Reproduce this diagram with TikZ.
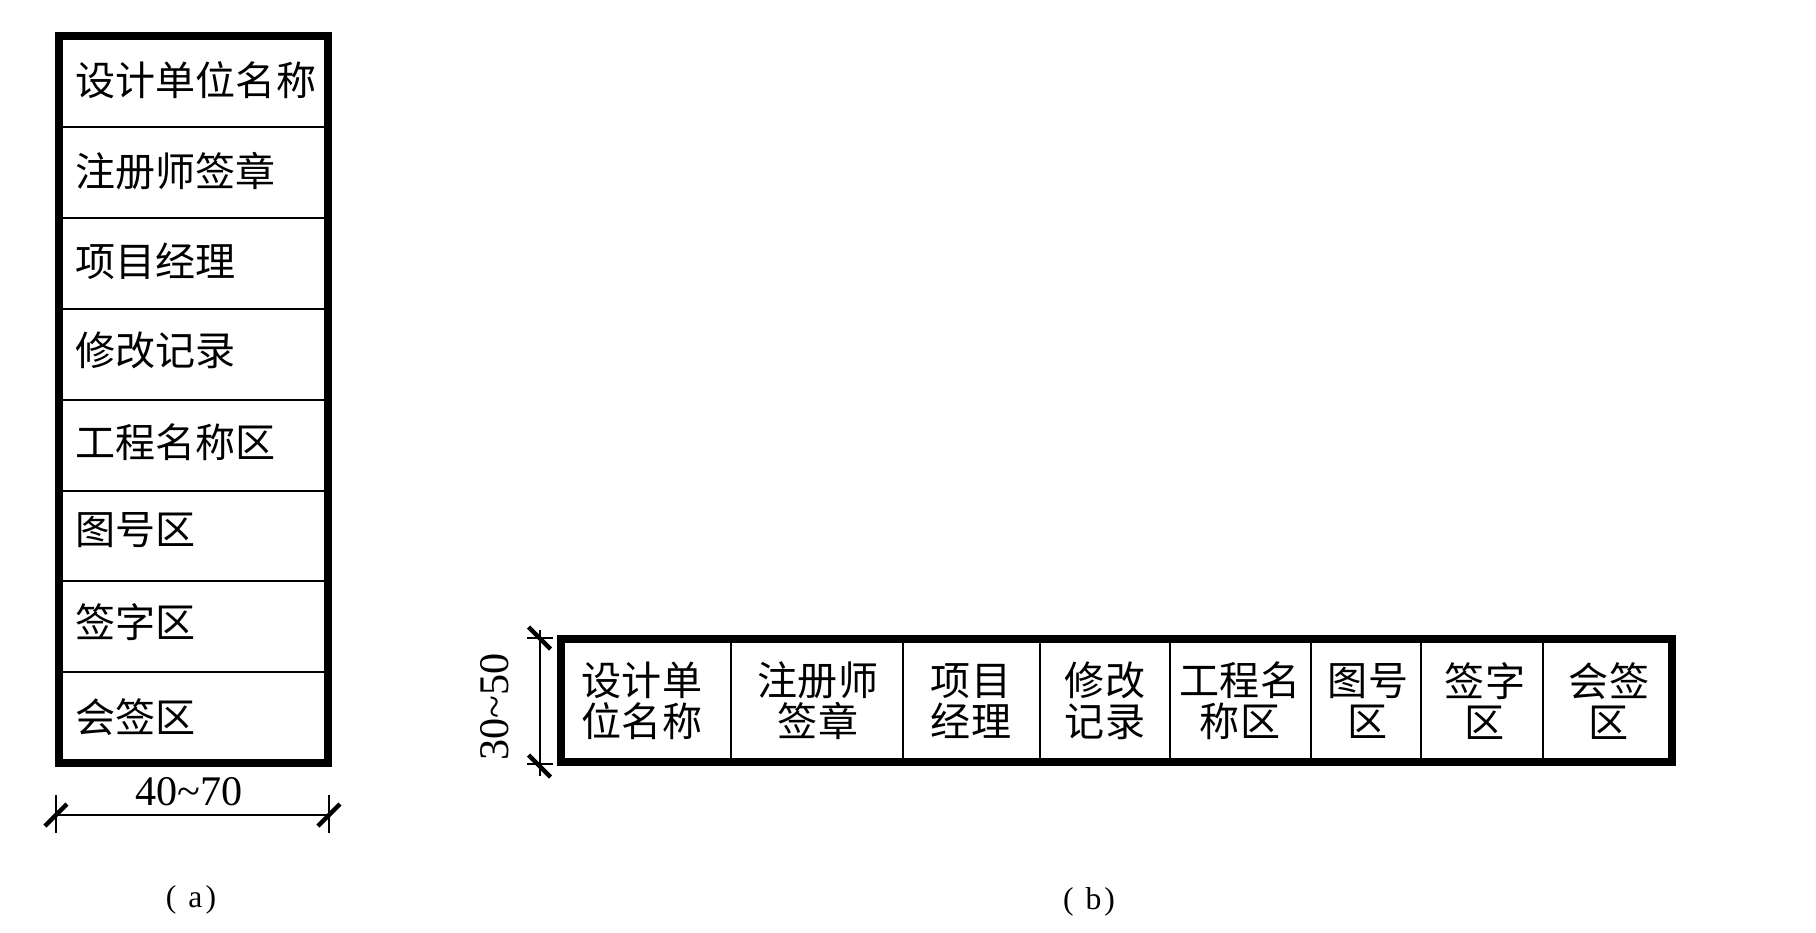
\documentclass[tikz,border=0pt]{standalone}
\usepackage{fontspec}
\setmainfont{Liberation Serif}
\newfontfamily\cjk{Noto Sans CJK SC}

\begin{document}
\begin{tikzpicture}
 \tikzstyle{outer}=[line width=0.08cm]
 \tikzstyle{divider}=[line width=0.02cm]
 \tikzstyle{dimline}=[line width=0.02cm]
 \tikzstyle{dimtick}=[line width=0.045cm]
 \tikzstyle{zone}=[inner sep=0, align=center, font=\cjk\fontsize{11.4pt}{11.6pt}\selectfont]
 \tikzstyle{dimtext}=[inner sep=0, font=\fontsize{12pt}{12pt}\selectfont]
 \tikzstyle{figcap}=[inner sep=0, font=\fontsize{9pt}{10pt}\selectfont]
 \useasboundingbox (0,0) rectangle (18.16,-9.33);
 %
 % (a) vertical title block
 \draw[outer] (0.59,-0.365) rectangle (3.28,-7.63);
 \draw[divider] (0.59,-1.273) -- (3.28,-1.273);
 \draw[divider] (0.59,-2.181) -- (3.28,-2.181);
 \draw[divider] (0.59,-3.089) -- (3.28,-3.089);
 \draw[divider] (0.59,-3.998) -- (3.28,-3.998);
 \draw[divider] (0.59,-4.906) -- (3.28,-4.906);
 \draw[divider] (0.59,-5.814) -- (3.28,-5.814);
 \draw[divider] (0.59,-6.722) -- (3.28,-6.722);
 %
 \node[zone, anchor=west] (A1) at (0.75,-0.80) {设计单位名称};
 \node[zone, anchor=west] (A2) at (0.75,-1.71) {注册师签章};
 \node[zone, anchor=west] (A3) at (0.75,-2.61) {项目经理};
 \node[zone, anchor=west] (A4) at (0.75,-3.50) {修改记录};
 \node[zone, anchor=west] (A5) at (0.75,-4.42) {工程名称区};
 \node[zone, anchor=west] (A6) at (0.75,-5.30) {图号区};
 \node[zone, anchor=west] (A7) at (0.75,-6.22) {签字区};
 \node[zone, anchor=west] (A8) at (0.75,-7.17) {会签区};
 %
 \coordinate (aL) at (0.56,-8.15);
 \coordinate (aR) at (3.29,-8.15);
 \draw[dimline] (0.56,-7.95) -- (0.56,-8.33);
 \draw[dimline] (3.29,-7.95) -- (3.29,-8.33);
 \draw[dimline] (aL) -- (aR);
 \draw[dimtick] ([shift={(-0.11,-0.11)}]aL) -- ([shift={(0.11,0.11)}]aL);
 \draw[dimtick] ([shift={(-0.11,-0.11)}]aR) -- ([shift={(0.11,0.11)}]aR);
 \node[dimtext] (wA) at (1.89,-7.92) {40\textasciitilde70};
 \node[figcap] (capA) at (1.91,-9.00) {(\hspace{0.12cm}a\hspace{0.03cm})};
 %
 % (b) horizontal title block
 \draw[outer] (5.61,-6.39) rectangle (16.72,-7.62);
 \draw[divider] (7.31,-6.39) -- (7.31,-7.62);
 \draw[divider] (9.03,-6.39) -- (9.03,-7.62);
 \draw[divider] (10.40,-6.39) -- (10.40,-7.62);
 \draw[divider] (11.70,-6.39) -- (11.70,-7.62);
 \draw[divider] (13.11,-6.39) -- (13.11,-7.62);
 \draw[divider] (14.21,-6.39) -- (14.21,-7.62);
 \draw[divider] (15.43,-6.39) -- (15.43,-7.62);
 %
 \node[zone] (B1) at (6.42,-7.01) {设计单\\位名称};
 \node[zone] (B2) at (8.18,-7.01) {注册师\\签章};
 \node[zone] (B3) at (9.71,-7.01) {项目\\经理};
 \node[zone] (B4) at (11.05,-7.01) {修改\\记录};
 \node[zone] (B5) at (12.40,-7.01) {工程名\\称区};
 \node[zone] (B6) at (13.68,-7.01) {图号\\区};
 \node[zone] (B7) at (14.85,-7.01) {签字\\区};
 \node[zone] (B8) at (16.09,-7.01) {会签\\区};
 %
 \coordinate (bT) at (5.395,-6.38);
 \coordinate (bB) at (5.395,-7.66);
 \draw[dimline] (5.27,-6.38) -- (5.53,-6.38);
 \draw[dimline] (5.27,-7.64) -- (5.53,-7.64);
 \draw[dimline] ([yshift=0.08cm]bT) -- ([yshift=-0.10cm]bB);
 \draw[dimtick] ([shift={(-0.11,0.11)}]bT) -- ([shift={(0.11,-0.11)}]bT);
 \draw[dimtick] ([shift={(-0.11,0.11)}]bB) -- ([shift={(0.11,-0.11)}]bB);
 \node[dimtext, rotate=90] (hB) at (4.95,-7.07) {30\textasciitilde50};
 \node[figcap] (capB) at (10.89,-9.02) {(\hspace{0.12cm}b\hspace{0.03cm})};
\end{tikzpicture}
\end{document}
